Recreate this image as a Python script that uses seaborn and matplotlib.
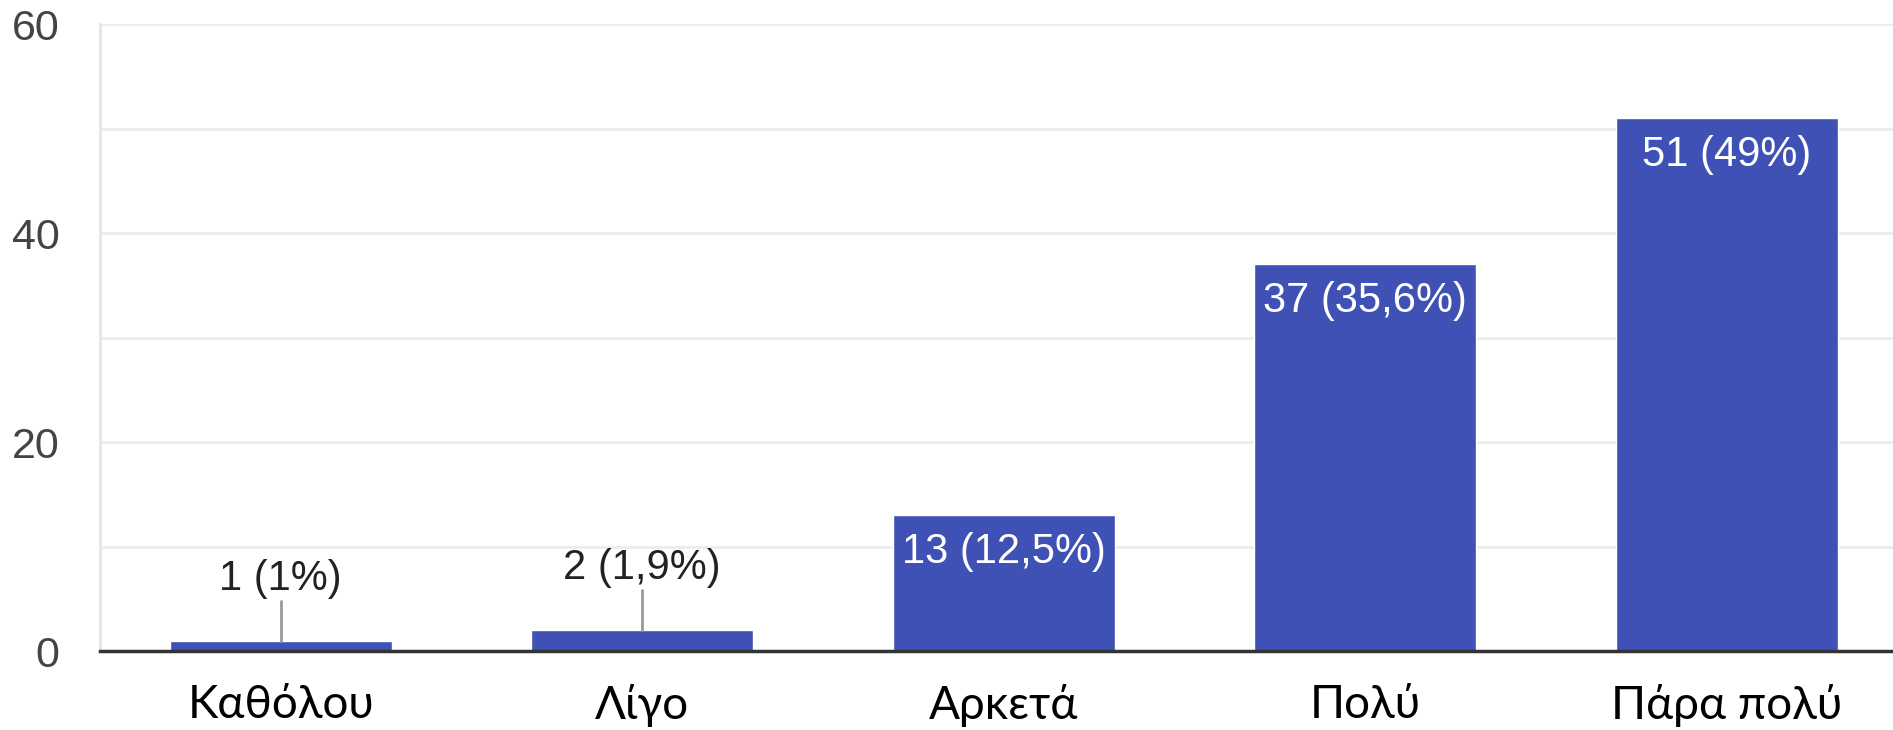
import matplotlib
matplotlib.use("Agg")
import matplotlib.pyplot as plt
import seaborn as sns
import pandas as pd

categories = ["Καθόλου", "Λίγο", "Αρκετά", "Πολύ", "Πάρα πολύ"]
counts = [1, 2, 13, 37, 51]
labels = ["1 (1%)", "2 (1,9%)", "13 (12,5%)", "37 (35,6%)", "51 (49%)"]
yticks = [0, 20, 40, 60]

sns.set_style("white")
plt.rcParams["font.family"] = ["Liberation Sans", "DejaVu Sans"]

df = pd.DataFrame({"cat": categories, "n": counts})

fig = plt.figure(figsize=(18.93, 7.3), dpi=100)
ax = fig.add_axes([0.0528, 0.1082, 1 - 0.0528, 0.8589])

sns.barplot(data=df, x="cat", y="n", color="#3F51B5", saturation=1,
            width=0.615, ax=ax, zorder=3)

ax.set_ylim(0, 60)
ax.set_xlim(-0.5, 4.46)
ax.set_yticks(yticks)
ax.set_yticks(range(10, 61, 20), minor=True)
ax.grid(axis="y", which="both", color="#ececec", lw=2, zorder=0)
ax.tick_params(axis="y", which="both", length=0, pad=29, labelsize=31, labelcolor="#444444")
ax.tick_params(axis="x", length=0, pad=24, labelsize=33, labelcolor="black")
for t in ax.get_xticklabels():
    t.set_fontfamily(["Lato", "Open Sans", "DejaVu Sans"])
ax.set_xlabel("")
ax.set_ylabel("")

for s in ["top", "right"]:
    ax.spines[s].set_visible(False)
ax.spines["left"].set_color("#e6e6e6")
ax.spines["left"].set_linewidth(2)
ax.spines["bottom"].set_color("#333333")
ax.spines["bottom"].set_linewidth(2.5)
ax.spines["bottom"].set_zorder(5)

for i, (v, lab) in enumerate(zip(counts, labels)):
    if v < 5:
        ax.plot([i, i], [v, v + 3.8], color="#999999", lw=2, zorder=4)
        ax.text(i, v + 4.0, lab, ha="center", va="bottom", fontsize=30,
                color="#222222", zorder=4)
    else:
        ax.annotate(lab, (i, v), xytext=(0, -12), textcoords="offset points",
                    ha="center", va="top", fontsize=30, color="white", zorder=4)

fig.savefig("out.png", dpi=100)
